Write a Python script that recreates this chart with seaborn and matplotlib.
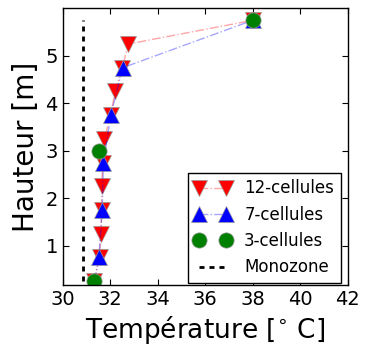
import matplotlib
matplotlib.use("Agg")
import matplotlib.pyplot as plt
import seaborn as sns

# hauteurs (m) et temperatures (C)
h12 = [0.25, 0.75, 1.25, 1.75, 2.25, 2.75, 3.25, 3.75, 4.25, 4.75, 5.25, 5.75]
t12 = [31.33, 31.55, 31.6, 31.64, 31.64, 31.68, 31.75, 32.02, 32.2, 32.51, 32.76, 38.0]

h7 = [0.25, 0.75, 1.75, 2.75, 3.75, 4.75, 5.75]
t7 = [31.33, 31.52, 31.66, 31.71, 32.02, 32.52, 38.0]

h3 = [0.25, 3.0, 5.75]
t3 = [31.33, 31.54, 38.0]

h_mono = [0.25, 5.75]
t_mono = [30.87, 30.87]

sns.set_style("ticks", {"xtick.direction": "in", "ytick.direction": "in",
                        "text.color": "black", "axes.labelcolor": "black",
                        "xtick.color": "black", "ytick.color": "black",
                        "axes.edgecolor": "black"})
plt.rcParams['font.family'] = ['DejaVu Sans']
plt.rcParams['lines.scale_dashes'] = False

fig = plt.figure(figsize=(3.65, 3.51), dpi=100)
ax = fig.add_axes([0.172, 0.188, 0.781, 0.788])

series = [
    (t12, h12, 'red', 'v', '12-cellules', (1, 0, 0, 0.35)),
    (t7, h7, 'blue', '^', '7-cellules', (0, 0, 1, 0.35)),
    (t3, h3, 'green', 'o', '3-cellules', (0, 0.5, 0, 0.0)),
]
for t, h, c, m, lab, lc in series:
    sns.lineplot(x=t, y=h, sort=False, estimator=None, ax=ax, color=c,
                 linestyle='-.', lw=1, marker=m, markersize=11,
                 markerfacecolor=c, markeredgecolor='0.6', markeredgewidth=0.5,
                 label=lab)
    ax.lines[-1].set_color(lc)

sns.lineplot(x=t_mono, y=h_mono, sort=False, estimator=None, ax=ax,
             color='black', lw=2, label='Monozone', orient='y')
ax.lines[-1].set_dashes((3.6, 3.6))

ax.set_xlim(30, 42)
ax.set_ylim(0.17, 6.0)
ax.set_xticks(range(30, 43, 2))
ax.set_yticks([1, 2, 3, 4, 5])
ax.tick_params(labelsize=14, length=4, top=True, right=True, direction='in',
               colors='black', labelcolor='black')
for s in ax.spines.values():
    s.set_color('black')
    s.set_linewidth(1)

ax.set_xlabel(r'Température [$^{\circ}$ C]', fontsize=19, color='black')
ax.set_ylabel('Hauteur [m]', fontsize=20, color='black')

leg = ax.legend(handles=ax.lines, loc='lower right', numpoints=2, fontsize=12,
                fancybox=False, framealpha=1, edgecolor='black',
                handlelength=2.2, bbox_to_anchor=(0.975, 0.007), borderaxespad=0)
leg.get_frame().set_linewidth(1)
for txt in leg.get_texts():
    txt.set_color('black')

fig.savefig('out.png', dpi=100)
